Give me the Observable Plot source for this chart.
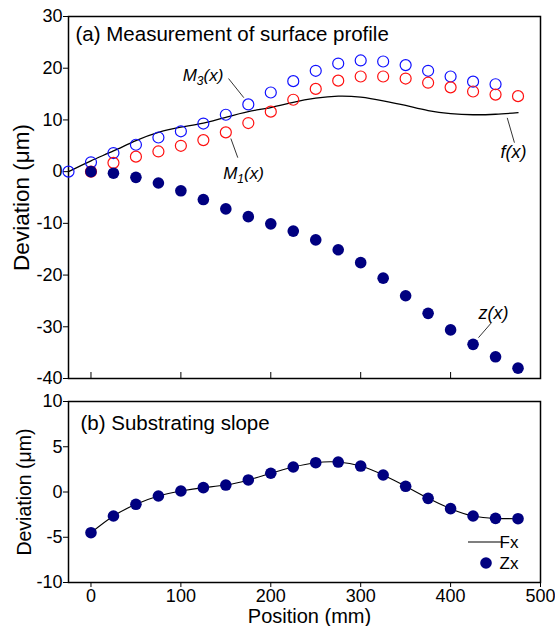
<!DOCTYPE html>
<html><head><meta charset="utf-8">
<script src="https://cdn.jsdelivr.net/npm/d3@7"></script>
<script src="https://cdn.jsdelivr.net/npm/@observablehq/plot@0.6"></script>
<style>
body{margin:0;background:#fff;}
#chart{position:relative;width:555px;height:626px;}
#chart svg{position:absolute;left:0;overflow:visible;}
</style></head><body><div id="chart"></div>
<script>
// ---- Data ----
const xTicks = [0, 100, 200, 300, 400, 500];
const yTicksA = [-40, -30, -20, -10, 0, 10, 20, 30];
const yTicksB = [-10, -5, 0, 5, 10];

// (a) M3(x): blue open circles
const posM3 = [-25, 0, 25, 50, 75, 100, 125, 150, 175, 200, 225, 250, 275, 300, 325, 350, 375, 400, 425, 450];
const m3 = [0, 1.8, 3.6, 5.2, 6.6, 7.8, 9.3, 11.0, 13.0, 15.3, 17.5, 19.5, 20.9, 21.5, 21.3, 20.6, 19.5, 18.4, 17.4, 16.9];
// (a) M1(x): red open circles
const posM1 = [0, 25, 50, 75, 100, 125, 150, 175, 200, 225, 250, 275, 300, 325, 350, 375, 400, 425, 450, 475];
const m1 = [0, 1.7, 2.9, 3.9, 5.0, 6.1, 7.6, 9.4, 11.6, 13.9, 16.0, 17.6, 18.4, 18.4, 18.0, 17.2, 16.3, 15.5, 14.9, 14.6];
// (a) z(x): filled navy dots
const posZ = [0, 25, 50, 75, 100, 125, 150, 175, 200, 225, 250, 275, 300, 325, 350, 375, 400, 425, 450, 475];
const z = [0, -0.3, -1.1, -2.2, -3.7, -5.4, -7.2, -8.7, -10.1, -11.5, -13.2, -15.1, -17.6, -20.6, -24.0, -27.4, -30.6, -33.4, -35.8, -38.0];
// (a) f(x): black line
const posF = [-25, 0, 25, 50, 75, 100, 125, 150, 175, 200, 225, 250, 275, 300, 325, 350, 375, 400, 425, 450, 475];
const f = [0, 2.1, 4.0, 6.0, 7.6, 8.6, 9.4, 10.5, 11.6, 12.4, 13.4, 14.2, 14.6, 14.4, 13.7, 12.8, 11.8, 11.2, 11.0, 11.1, 11.4];

// (b) Substrating slope
const posB = [0, 25, 50, 75, 100, 125, 150, 175, 200, 225, 250, 275, 300, 325, 350, 375, 400, 425, 450, 475];
const zx = [-4.5, -2.65, -1.36, -0.44, 0.11, 0.48, 0.77, 1.33, 2.07, 2.76, 3.24, 3.31, 2.87, 1.88, 0.63, -0.70, -1.84, -2.65, -2.91, -2.95];
const fx = [-4.5, -2.65, -1.36, -0.44, 0.11, 0.48, 0.77, 1.33, 2.07, 2.76, 3.24, 3.31, 2.87, 1.88, 0.63, -0.70, -1.84, -2.65, -2.91, -2.95];

const toRows = (xs, ys) => xs.map((x, i) => ({x, y: ys[i]}));
const FONT = '"Liberation Sans", Arial, sans-serif';
const BLUE = "#1010ff", RED = "#ff1010", NAVY = "#000080";
const fmt = d => String(d);

const topPlot = Plot.plot({
  width: 555, height: 390,
  marginLeft: 68, marginRight: 15, marginTop: 16, marginBottom: 12,
  style: {fontFamily: FONT, fontSize: "18px", background: "transparent", color: "black"},
  x: {domain: [-25, 500]},
  y: {domain: [-40, 30]},
  marks: [
    Plot.axisX({ticks: xTicks, tickSize: -6, tickFormat: () => "", label: null}),
    Plot.axisY({ticks: yTicksA, tickSize: 5, tickPadding: 1, tickFormat: fmt, label: null, fontSize: 18}),
    Plot.frame({stroke: "black", strokeWidth: 1.5}),
    Plot.line(toRows(posF, f), {x: "x", y: "y", curve: "natural", stroke: "black", strokeWidth: 1.3}),
    Plot.dot(toRows(posM3, m3), {x: "x", y: "y", r: 5.5, stroke: BLUE, strokeWidth: 1.2, fill: "none"}),
    Plot.dot(toRows(posM1, m1), {x: "x", y: "y", r: 5.5, stroke: RED, strokeWidth: 1.2, fill: "none"}),
    Plot.dot(toRows(posZ, z), {x: "x", y: "y", r: 5.8, fill: NAVY, stroke: "none"}),
    Plot.text(["(a) Measurement of surface profile"], {frameAnchor: "top-left", dx: 7, dy: 18, lineAnchor: "middle", fontSize: 20.5}),
    Plot.text(["Deviation (μm)"], {frameAnchor: "left", textAnchor: "middle", rotate: -90, dx: -47, fontSize: 22.5}),
    // annotations
    Plot.text(["M3(x)"], {x: 102, y: 18.6, textAnchor: "start", fontStyle: "italic", fontSize: 17}),
    Plot.link([0], {x1: 153, y1: 18.0, x2: 170, y2: 14.3, stroke: "black", strokeWidth: 0.8}),
    Plot.text(["M1(x)"], {x: 147, y: -0.4, textAnchor: "start", fontStyle: "italic", fontSize: 17}),
    Plot.link([0], {x1: 155.6, y1: 6.4, x2: 163.3, y2: 2.7, stroke: "black", strokeWidth: 0.8}),
    Plot.text(["f(x)"], {x: 455.5, y: 3.7, textAnchor: "start", fontStyle: "italic", fontSize: 18}),
    Plot.link([0], {x1: 463, y1: 10.4, x2: 471, y2: 5.6, stroke: "black", strokeWidth: 0.8}),
    Plot.text(["z(x)"], {x: 431, y: -27.3, textAnchor: "start", fontStyle: "italic", fontSize: 18}),
    Plot.link([0], {x1: 445.5, y1: -29.2, x2: 431, y2: -32.1, stroke: "black", strokeWidth: 0.8})
  ]
});

const bottomPlot = Plot.plot({
  width: 555, height: 236,
  marginLeft: 68, marginRight: 15, marginTop: 11, marginBottom: 44,
  style: {fontFamily: FONT, fontSize: "18px", background: "transparent", color: "black"},
  x: {domain: [-25, 500]},
  y: {domain: [-10, 10]},
  marks: [
    Plot.axisX({ticks: xTicks, tickSize: 5, tickPadding: 2, tickFormat: fmt, label: null, fontSize: 18}),
    Plot.axisY({ticks: yTicksB, tickSize: 5, tickPadding: 1, tickFormat: fmt, label: null, fontSize: 18}),
    Plot.frame({stroke: "black", strokeWidth: 1.5}),
    Plot.line(toRows(posB, fx), {x: "x", y: "y", curve: "natural", stroke: "black", strokeWidth: 1.1}),
    Plot.dot(toRows(posB, zx), {x: "x", y: "y", r: 5.8, fill: NAVY, stroke: "none"}),
    Plot.text(["(b) Substrating slope"], {frameAnchor: "top-left", dx: 12, dy: 22, lineAnchor: "middle", fontSize: 20.5}),
    Plot.text(["Deviation (μm)"], {frameAnchor: "left", textAnchor: "middle", rotate: -90, dx: -44, fontSize: 19.5}),
    Plot.text(["Position (mm)"], {frameAnchor: "bottom", dx: 5, dy: 34, lineAnchor: "middle", fontSize: 20})
  ]
});

// subscripts in the annotation labels
d3.select(topPlot).selectAll("text").filter(function() {
  return this.textContent === "M3(x)" || this.textContent === "M1(x)";
}).each(function() {
  const sub = this.textContent[1];
  const t = d3.select(this);
  t.text(null);
  t.append("tspan").text("M");
  t.append("tspan").attr("dy", 4).attr("font-size", 12).text(sub);
  t.append("tspan").attr("dy", -4).text("(x)");
});

// legend inside panel (b)
{
  const xr = bottomPlot.scale("x").range, yr = bottomPlot.scale("y").range;
  const right = Math.max(...xr), btm = Math.max(...yr);
  const g = d3.select(bottomPlot).append("g").attr("font-family", FONT).attr("font-size", 17);
  g.append("line").attr("x1", right - 72).attr("x2", right - 37).attr("y1", btm - 40).attr("y2", btm - 40)
    .attr("stroke", "black").attr("stroke-width", 1.1);
  g.append("text").attr("x", right - 31).attr("y", btm - 40).attr("dy", "0.35em").text("Fx");
  g.append("circle").attr("cx", right - 54).attr("cy", btm - 19).attr("r", 5.8).attr("fill", NAVY);
  g.append("text").attr("x", right - 31).attr("y", btm - 19).attr("dy", "0.35em").text("Zx");
}

topPlot.style.top = "0px";
bottomPlot.style.top = "390px";
const chart = document.getElementById("chart");
chart.appendChild(topPlot);
chart.appendChild(bottomPlot);
</script></body></html>
